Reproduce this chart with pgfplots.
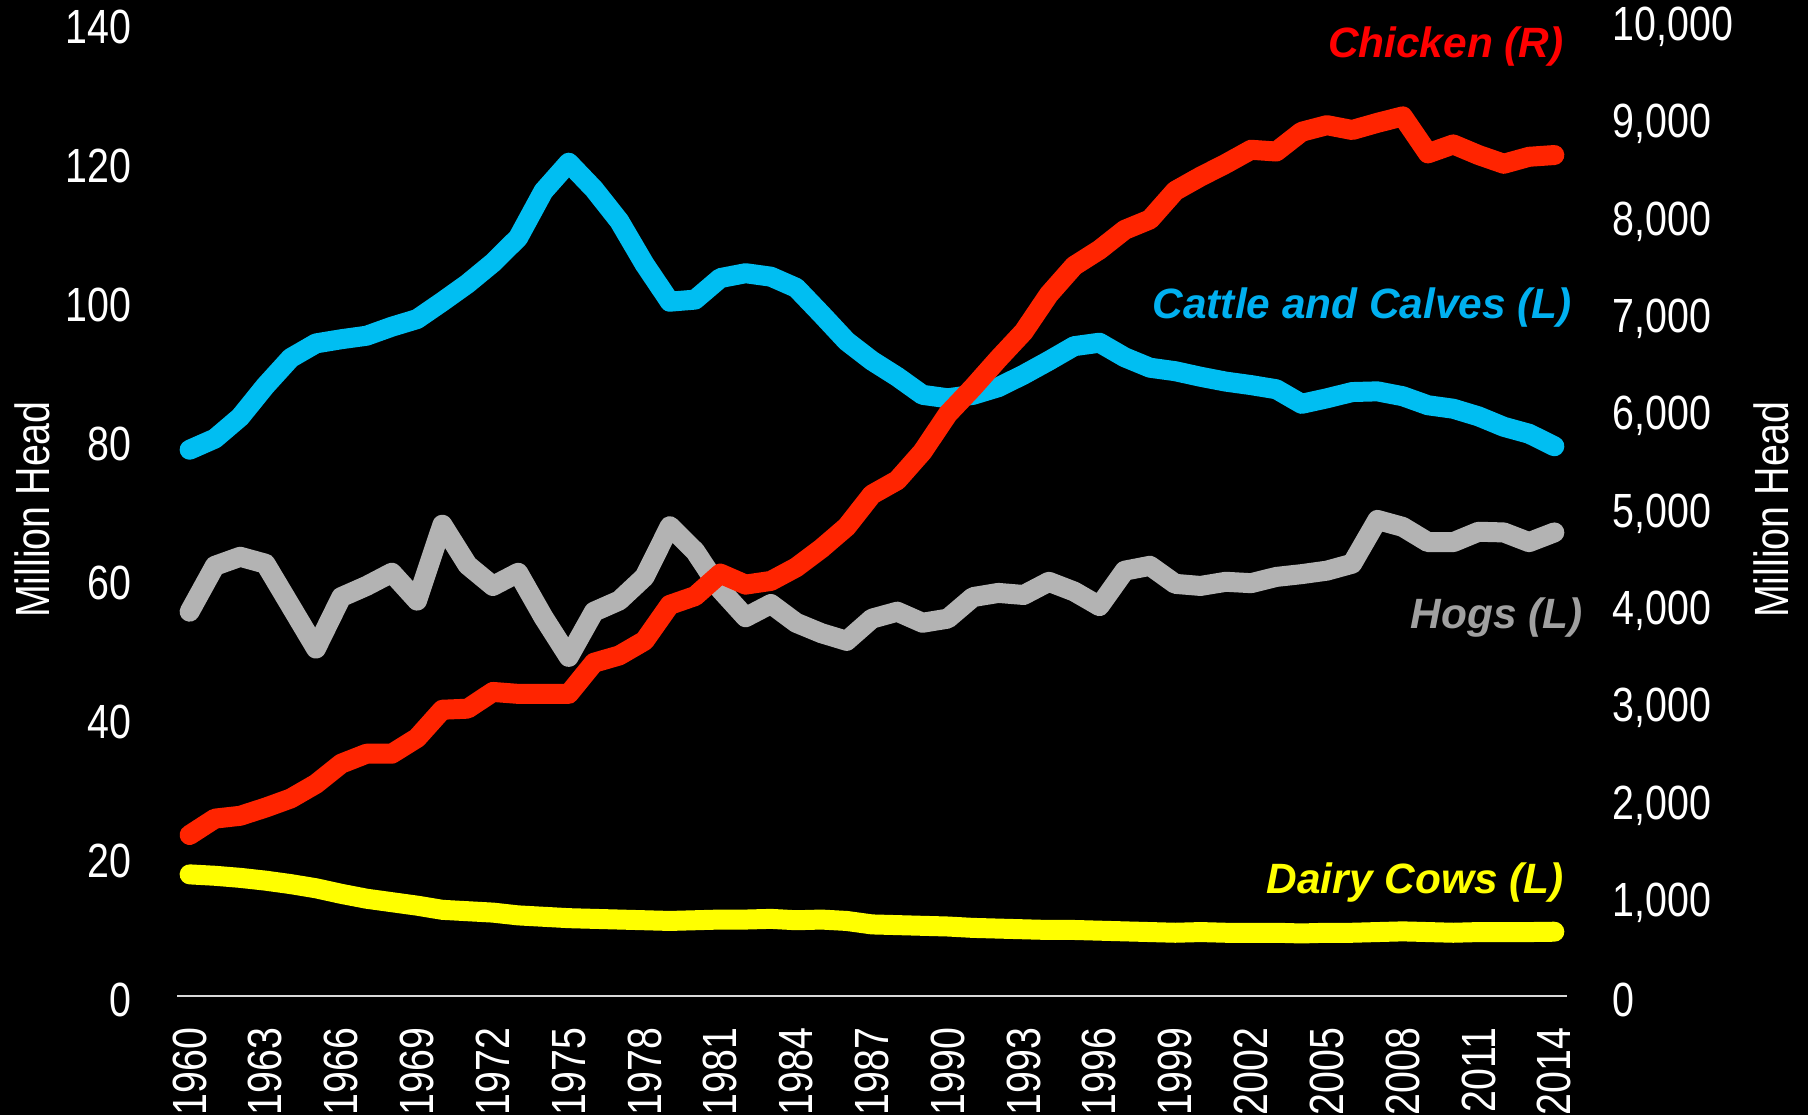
\documentclass[border=0pt]{standalone}
\usepackage{pgfplots}
\usepackage{pgfplotstable}
\pgfplotsset{compat=1.18}
\usepackage{fontspec}
\setmainfont{Liberation Sans}[FakeStretch=0.82]
\newfontfamily\lblfont{Liberation Sans}

\definecolor{cattle}{RGB}{0,190,242}
\definecolor{cattlelbl}{RGB}{0,176,240}
\definecolor{chicken}{RGB}{255,36,0}
\definecolor{chickenlbl}{RGB}{255,0,0}
\definecolor{hogs}{RGB}{179,179,179}
\definecolor{hogslbl}{RGB}{160,160,160}
\definecolor{dairy}{RGB}{255,255,0}

% cattle, hogs, dairy in million head (left); chicken in million head (right)
\pgfplotstableread{
year cattle hogs dairy chicken
1960 78.6 55.3 17.5 1655
1961 80.2 61.9 17.3 1823
1962 83.3 63.2 17.0 1852
1963 87.8 62.2 16.6 1936
1964 91.8 56.1 16.1 2030
1965 93.9 50.0 15.5 2180
1966 94.5 57.4 14.7 2388
1967 95.0 59.0 14.0 2490
1968 96.3 60.9 13.5 2490
1969 97.4 56.9 13.0 2652
1970 99.9 67.8 12.4 2942
1971 102.5 62.0 12.2 2953
1972 105.5 59.0 12.0 3125
1973 109.1 60.9 11.6 3105
1974 115.8 54.5 11.4 3105
1975 119.9 48.8 11.2 3105
1976 116.1 55.3 11.1 3425
1977 111.5 56.9 11.0 3500
1978 105.3 60.3 10.9 3651
1979 99.9 67.6 10.8 4020
1980 100.2 64.0 10.9 4110
1981 103.3 58.5 11.0 4341
1982 104.0 54.5 11.0 4228
1983 103.5 56.4 11.1 4266
1984 101.9 53.7 10.9 4405
1985 98.1 52.2 11.0 4600
1986 94.2 51.1 10.8 4823
1987 91.4 54.3 10.3 5154
1988 89.1 55.3 10.2 5300
1989 86.5 53.7 10.1 5594
1990 86.0 54.3 10.0 5981
1991 86.5 57.4 9.8 6255
1992 87.6 58.0 9.7 6548
1993 89.4 57.7 9.6 6826
1994 91.4 59.6 9.5 7210
1995 93.5 58.2 9.5 7504
1996 94.0 56.1 9.4 7669
1997 91.9 61.2 9.3 7874
1998 90.4 61.9 9.2 7981
1999 89.9 59.3 9.1 8275
2000 89.1 59.0 9.2 8421
2001 88.4 59.6 9.1 8553
2002 87.9 59.4 9.1 8697
2003 87.3 60.3 9.1 8679
2004 85.2 60.7 9.0 8882
2005 86.0 61.2 9.1 8950
2006 86.9 62.2 9.1 8900
2007 87.0 68.5 9.2 8974
2008 86.3 67.5 9.3 9040
2009 85.0 65.3 9.2 8660
2010 84.5 65.3 9.1 8752
2011 83.4 66.8 9.2 8643
2012 81.9 66.7 9.2 8553
2013 80.9 65.3 9.2 8625
2014 79.1 66.7 9.25 8643
}\livestock

\pgfplotsset{
 common/.style={
 scale only axis,
 width=347.5pt, height=243.25pt,
 at={(44.25pt,29.75pt)}, anchor=south west,
 xmin=1959.5, xmax=2014.5,
 clip=false,
 major tick length=0pt,
 scaled ticks=false,
 /pgf/number format/assume math mode=true,
 ticklabel style={font=\fontsize{12}{14}\selectfont, text=white, inner sep=0pt},
 label style={font=\fontsize{12}{14}\selectfont, text=white},
 },
}
\tikzset{
 ser/.style={line width=5pt, line cap=round, line join=round},
 lbl/.style={anchor=east, inner sep=0pt, font=\lblfont\bfseries\itshape\fontsize{10.6}{12}\selectfont},
}

\begin{document}
\begin{tikzpicture}
\useasboundingbox (0,0) rectangle (452pt,278.75pt);
\fill[black] (0,0) rectangle (452pt,278.75pt);

\begin{axis}[
 common,
 ymin=0, ymax=140,
 ytick={0,20,...,140},
 xtick={1960,1963,...,2014},
 axis x line*=bottom,
 axis y line*=left,
 x axis line style={draw=white!85!black, line width=0.45pt},
 y axis line style={draw=none},
 xticklabel style={rotate=90, anchor=east, /pgf/number format/1000 sep={}},
 xticklabel shift=7.75pt,
 yticklabel style={yshift=-1pt},
 yticklabel shift=11.25pt,
 ylabel={Million Head},
 ylabel style={at={(axis description cs:-0.1043,0.5)}, anchor=center},
]
\addplot[ser, cattle] table[x=year, y=cattle] {\livestock};
\addplot[ser, hogs] table[x=year, y=hogs] {\livestock};
\addplot[ser, dairy] table[x=year, y=dairy] {\livestock};

\node[lbl, text=chickenlbl] at (axis cs:2014.4,136.6) {Chicken (R)};
\node[lbl, text=cattlelbl] at (axis cs:2014.73,99.0) {Cattle and Calves (L)};
\node[lbl, text=hogslbl] at (axis cs:2015.15,54.4) {Hogs (L)};
\node[lbl, text=dairy] at (axis cs:2014.4,16.3) {Dairy Cows (L)};
\end{axis}

\begin{axis}[
 common,
 ymin=0, ymax=10000,
 ytick={0,1000,...,10000},
 axis x line=none,
 axis y line*=right,
 y axis line style={draw=none},
 yticklabel style={anchor=west, yshift=-1pt, /pgf/number format/1000 sep={,}},
 yticklabel shift=11.25pt,
 ylabel={Million Head},
 ylabel style={at={(axis description cs:1.1468,0.5)}, anchor=center},
]
\addplot[ser, chicken] table[x=year, y=chicken] {\livestock};
\end{axis}
\end{tikzpicture}
\end{document}
